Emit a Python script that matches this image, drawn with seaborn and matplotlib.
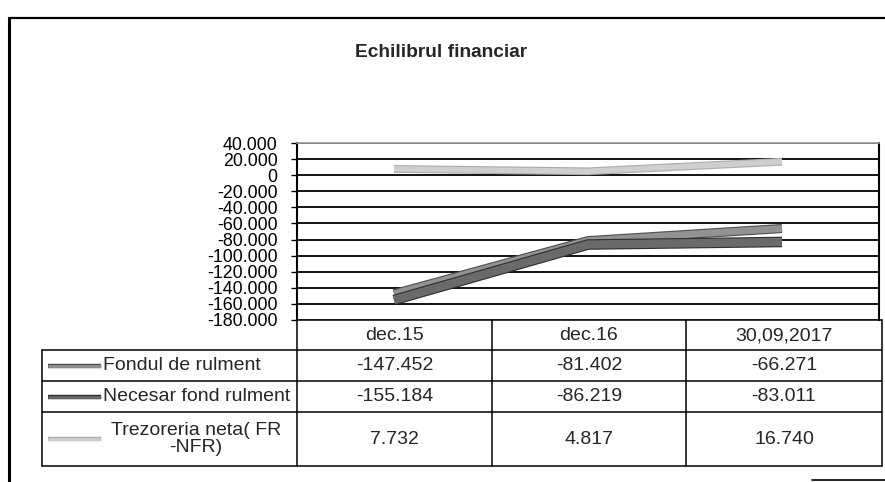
import numpy as np
import pandas as pd
import matplotlib
matplotlib.use("Agg")
import matplotlib.pyplot as plt
import matplotlib.patheffects as pe
from matplotlib.ticker import FuncFormatter
import seaborn as sns

# ---------------- data ----------------
title = "Echilibrul financiar"
categories = ["dec.15", "dec.16", "30,09,2017"]
series_names = ["Fondul de rulment", "Necesar fond rulment", "Trezoreria neta( FR\n-NFR)"]
fondul = [-147452, -81402, -66271]
necesar = [-155184, -86219, -83011]
trezoreria = [7732, 4817, 16740]
y_ticks = list(range(-180000, 40001, 20000))

series_values = [fondul, necesar, trezoreria]
line_colors = ["#929292", "#6a6a6a", "#cfcfcf"]
edge_colors = ["#4e4e4e", "#2e2e2e", "#ababab"]
line_widths = [5.0, 6.0, 4.0]

# ---------------- style ----------------
sns.set_style("white")
plt.rcParams["font.family"] = ["Liberation Sans", "DejaVu Sans"]

W, H = 885, 482
fig = plt.figure(figsize=(W / 100, H / 100), dpi=100)
fig.patch.set_facecolor("white")

def px_axes(x0, y0, x1, y1):
    return fig.add_axes([x0 / W, 1 - y1 / H, (x1 - x0) / W, (y1 - y0) / H])

# overlay in pixel coordinates for frame and data table
ov = fig.add_axes([0, 0, 1, 1])
ov.set_xlim(0, W)
ov.set_ylim(H, 0)
ov.axis("off")
ov.patch.set_alpha(0)

# plot area
ax = px_axes(297, 143, 879, 320)
df = pd.DataFrame({
    "x": np.tile(np.arange(len(categories)), len(series_names)),
    "value": np.concatenate(series_values),
    "series": np.repeat(series_names, len(categories)),
})
sns.lineplot(data=df, x="x", y="value", hue="series", hue_order=series_names,
             palette=line_colors, ax=ax, legend=False, sort=False)
for ln, c, ec, lw in zip(ax.get_lines(), line_colors, edge_colors, line_widths):
    ln.set_linewidth(lw)
    ln.set_solid_capstyle("butt")
    ln.set_path_effects([pe.Stroke(linewidth=lw + 1.6, foreground=ec), pe.Normal()])
    ln.set_zorder(3)

ax.set_xlim(-0.5, len(categories) - 0.5)
ax.set_ylim(min(y_ticks), max(y_ticks))
ax.set_yticks(y_ticks)
ax.yaxis.set_major_formatter(FuncFormatter(lambda v, p: f"{int(v):,}".replace(",", ".")))
ax.set_xticks([])
ax.set_xlabel("")
ax.set_ylabel("")
ax.yaxis.grid(True, color="black", linewidth=1.3)
ax.set_axisbelow(True)
ax.tick_params(axis="y", which="major", left=True, length=4, width=1, pad=10,
               labelsize=12.8, colors="black")
for s in ["left", "right"]:
    ax.spines[s].set_visible(True)
    ax.spines[s].set_color("black")
    ax.spines[s].set_linewidth(1.5)
ax.spines["top"].set_color("#9a9a9a")
ax.spines["top"].set_linewidth(1.2)
ax.spines["bottom"].set_visible(False)
ax.set_facecolor("white")

# title
fig.text(441 / W, 1 - 52 / H, title, ha="center", va="center",
         fontsize=13.8, fontweight="bold")

# outer frame of the scanned chart
ov.plot([9, W], [18, 18], color="black", lw=1.6)
ov.plot([9, 9], [18, H], color="black", lw=2.2)
ov.plot([812, W], [480, 480], color="black", lw=1.2)

# ---------------- data table ----------------
col_x = [297, 492, 686, 882]
row_y = [320, 350, 381, 412, 466]
lc = "black"
tlw = 1.1
ov.plot([col_x[0], col_x[-1]], [row_y[0], row_y[0]], color=lc, lw=tlw)
for x in col_x:
    ov.plot([x, x], [row_y[0], row_y[-1]], color=lc, lw=tlw)
for y in row_y[1:]:
    ov.plot([42, col_x[-1]], [y, y], color=lc, lw=tlw)
ov.plot([42, 42], [row_y[1], row_y[-1]], color=lc, lw=tlw)

fs = 14
for j, cat in enumerate(categories):
    cx = (col_x[j] + col_x[j + 1]) / 2
    ov.text(cx, (row_y[0] + row_y[1]) / 2 + 1, cat, ha="center", va="center", fontsize=fs)

for i, (name, vals) in enumerate(zip(series_names, series_values)):
    cy = (row_y[i + 1] + row_y[i + 2]) / 2
    kl = ov.plot([48, 101], [cy, cy], color=line_colors[i], lw=2.0, solid_capstyle="butt")[0]
    kl.set_path_effects([pe.Stroke(linewidth=3.2, foreground=edge_colors[i]), pe.Normal()])
    if "\n" in name:
        ov.text(196, cy, name, ha="center", va="center", fontsize=fs, linespacing=1.0)
    else:
        ov.text(103, cy, name, ha="left", va="center", fontsize=fs)
    for j, v in enumerate(vals):
        cx = (col_x[j] + col_x[j + 1]) / 2
        ov.text(cx, cy, f"{v:,}".replace(",", "."), ha="center", va="center", fontsize=fs)

fig.savefig("out.png", dpi=100)
